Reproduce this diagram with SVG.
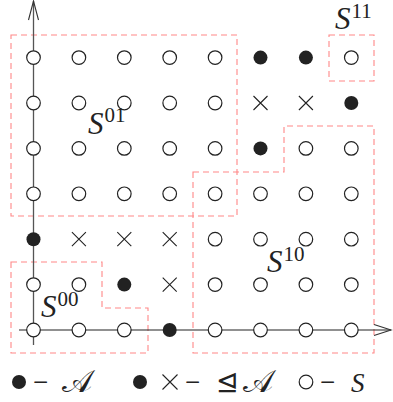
<svg xmlns="http://www.w3.org/2000/svg" width="393" height="402" viewBox="0 0 393 402">
<style>
.o{fill:#fff;stroke:#222;stroke-width:1.2}
.f{fill:#222;stroke:none}
.x{stroke:#222;stroke-width:1.1;fill:none}
.r{fill:none;stroke:#f88;stroke-width:1.1;stroke-dasharray:6,4}
.lab{font-family:"Liberation Serif",serif;font-style:italic;font-size:31px;fill:#222}
.sup{font-family:"Liberation Serif",serif;font-size:21px;fill:#222}
.leg{font-family:"Liberation Serif",serif;font-size:27px;fill:#222}
.cal{font-family:"DejaVu Serif","DejaVu Sans",serif;font-size:32px;fill:#222}
</style>
<defs>
<circle id="oc" r="6.8" class="o"/>
<circle id="fc" r="7" class="f"/>
<path id="xx" d="M-7,-7L7,7M-7,7L7,-7" class="x"/>
</defs>
<g id="regions">
<rect id="S01box" class="r" x="11" y="35" width="226" height="181"/>
<rect id="S11box" class="r" x="329" y="35" width="45" height="46"/>
<path id="S10box" class="r" d="M193,172H284V126H374V353H193Z"/>
<path id="S00box" class="r" d="M11,262H102V308H148V353H11Z"/>
</g>
<g id="connectors">
<path d="M33.5,345V1" stroke="#555" stroke-width="1.3" fill="none"/>
<path d="M28.5,20L33.5,1L38.5,20" stroke="#333" stroke-width="1.1" fill="none"/>
<path d="M19,330H391" stroke="#222" stroke-width="1.2" fill="none"/>
<path d="M374,324.5L391,330L374,335.5" stroke="#333" stroke-width="1.1" fill="none"/>
</g>
<g id="points">
<use href="#oc" x="33.5" y="57.6"/><use href="#oc" x="78.9" y="57.6"/><use href="#oc" x="124.3" y="57.6"/><use href="#oc" x="169.7" y="57.6"/><use href="#oc" x="215.1" y="57.6"/><use href="#fc" x="260.5" y="57.6"/><use href="#fc" x="305.9" y="57.6"/><use href="#oc" x="351.3" y="57.6"/>
<use href="#oc" x="33.5" y="103"/><use href="#oc" x="78.9" y="103"/><use href="#oc" x="124.3" y="103"/><use href="#oc" x="169.7" y="103"/><use href="#oc" x="215.1" y="103"/><use href="#xx" x="260.5" y="103"/><use href="#xx" x="305.9" y="103"/><use href="#fc" x="351.3" y="103"/>
<use href="#oc" x="33.5" y="148.4"/><use href="#oc" x="78.9" y="148.4"/><use href="#oc" x="124.3" y="148.4"/><use href="#oc" x="169.7" y="148.4"/><use href="#oc" x="215.1" y="148.4"/><use href="#fc" x="260.5" y="148.4"/><use href="#oc" x="305.9" y="148.4"/><use href="#oc" x="351.3" y="148.4"/>
<use href="#oc" x="33.5" y="193.8"/><use href="#oc" x="78.9" y="193.8"/><use href="#oc" x="124.3" y="193.8"/><use href="#oc" x="169.7" y="193.8"/><use href="#oc" x="215.1" y="193.8"/><use href="#oc" x="260.5" y="193.8"/><use href="#oc" x="305.9" y="193.8"/><use href="#oc" x="351.3" y="193.8"/>
<use href="#fc" x="33.5" y="239.2"/><use href="#xx" x="78.9" y="239.2"/><use href="#xx" x="124.3" y="239.2"/><use href="#xx" x="169.7" y="239.2"/><use href="#oc" x="215.1" y="239.2"/><use href="#oc" x="260.5" y="239.2"/><use href="#oc" x="305.9" y="239.2"/><use href="#oc" x="351.3" y="239.2"/>
<use href="#oc" x="33.5" y="284.6"/><use href="#oc" x="78.9" y="284.6"/><use href="#fc" x="124.3" y="284.6"/><use href="#xx" x="169.7" y="284.6"/><use href="#oc" x="215.1" y="284.6"/><use href="#oc" x="260.5" y="284.6"/><use href="#oc" x="305.9" y="284.6"/><use href="#oc" x="351.3" y="284.6"/>
<use href="#oc" x="33.5" y="330"/><use href="#oc" x="78.9" y="330"/><use href="#oc" x="124.3" y="330"/><use href="#fc" x="169.7" y="330"/><use href="#oc" x="215.1" y="330"/><use href="#oc" x="260.5" y="330"/><use href="#oc" x="305.9" y="330"/><use href="#oc" x="351.3" y="330"/>
</g>
<g id="labels">
<text class="lab" x="88" y="134">S<tspan class="sup" font-style="normal" dx="1" dy="-12">01</tspan></text>
<text class="lab" x="335" y="29">S<tspan class="sup" font-style="normal" dx="1" dy="-11">11</tspan></text>
<text class="lab" x="267" y="272">S<tspan class="sup" font-style="normal" dx="1" dy="-11">10</tspan></text>
<text class="lab" x="41" y="317">S<tspan class="sup" font-style="normal" dx="1" dy="-11">00</tspan></text>
</g>
<g id="legend">
<circle cx="19" cy="382" r="7" class="f"/>
<text class="leg" x="33" y="391">−</text>
<text class="cal" x="62" y="392">𝒜</text>
<circle cx="140" cy="382" r="7" class="f"/>
<path d="M162.5,374.5L177.5,389.5M162.5,389.5L177.5,374.5" class="x"/>
<text class="leg" x="185" y="391">−</text>
<text class="leg" x="216" y="391" font-family="'DejaVu Serif','DejaVu Sans',serif" font-size="22">⊴</text>
<text class="cal" x="243" y="392">𝒜</text>
<circle cx="306" cy="382" r="6.8" class="o"/>
<text class="leg" x="320" y="391">−</text>
<text class="leg" x="351" y="392" font-style="italic">S</text>
</g>
</svg>
